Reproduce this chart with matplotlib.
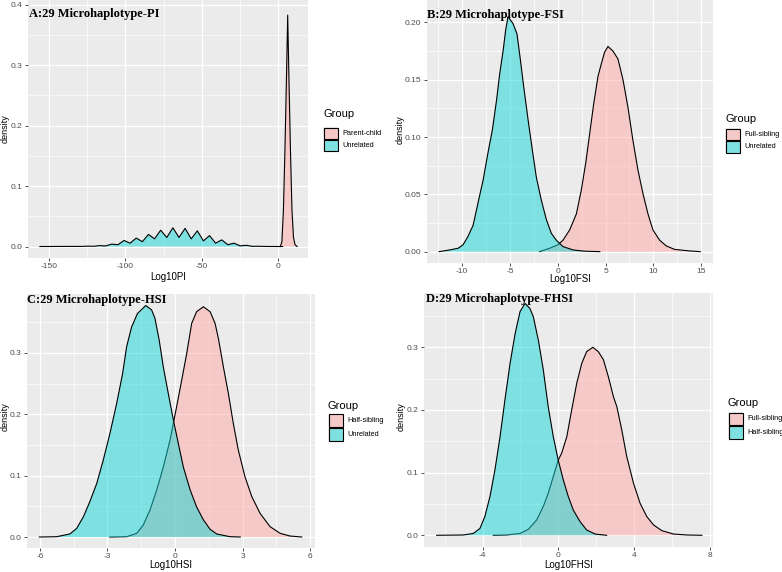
import matplotlib.pyplot as plt
from matplotlib.patches import Rectangle
from matplotlib.colors import to_rgba

# ---- data ----
# A: Log10PI
a_pc_x = [1.5, 2.5, 3.5, 4.5, 5.5, 6.3, 7.1, 8.1, 9.1, 10.1, 11.1, 12.5]
a_pc_y = [0, 0.008, 0.06, 0.16, 0.28, 0.383, 0.28, 0.16, 0.06, 0.015, 0.003, 0]
a_un_x = [-156, -145, -136.9, -128.9, -124.9, -120.9, -116.9, -114.9, -112.9, -110.9,
          -108.9, -106.9, -104.9, -102.9, -100.9, -98.9, -96.9, -94.9, -92.9, -90.9,
          -88.9, -86.9, -84.9, -82.9, -80.9, -78.9, -76.9, -74.9, -72.9, -70.9,
          -68.9, -66.9, -64.9, -62.9, -60.9, -58.9, -56.9, -54.9, -52.9, -50.9,
          -48.9, -46.9, -44.9, -42.9, -40.9, -38.9, -36.9, -34.9, -32.9, -30.9,
          -28.9, -26.9, -24.9, -22.9, -20.9, -18.9, -16.9, -12.9, -8, 0, 3]
a_un_y = [0, 0.0001, 0.0002, 0.0002, 0.0006, 0.0004, 0.0015, 0.0012, 0.0010, 0.0025,
          0.0040, 0.0035, 0.0030, 0.0065, 0.0100, 0.0078, 0.0055, 0.0098, 0.0140, 0.0110,
          0.0080, 0.0140, 0.0200, 0.0164, 0.0127, 0.0199, 0.0270, 0.0210, 0.0150, 0.0230,
          0.0310, 0.0230, 0.0150, 0.0225, 0.0300, 0.0214, 0.0127, 0.0194, 0.0260, 0.0177,
          0.0093, 0.0137, 0.0180, 0.0118, 0.0055, 0.0083, 0.0110, 0.0070, 0.0030, 0.0043,
          0.0055, 0.0034, 0.0012, 0.0016, 0.0020, 0.0012, 0.0003, 0.0004, 0.0001, 0, 0]

# B: Log10FSI
b_fs_x = [-1.9, -0.84, 0.03, 0.55, 1.25, 1.95, 2.47, 2.92, 3.34, 3.76, 4.21, 4.56, 4.9,
          5.25, 5.77, 6.3, 6.82, 7.34, 7.86, 8.39, 8.9, 9.43, 9.95, 10.65, 11.35, 12.2,
          13.8, 14.9]
b_fs_y = [0, 0.003, 0.006, 0.010, 0.019, 0.033, 0.054, 0.077, 0.103, 0.129, 0.153, 0.164,
          0.174, 0.179, 0.175, 0.168, 0.150, 0.126, 0.097, 0.071, 0.051, 0.033, 0.019,
          0.010, 0.005, 0.002, 0.0006, 0]
b_un_x = [-12.4, -11.3, -10.4, -9.9, -9.4, -8.85, -8.27, -7.8, -7.3, -6.84, -6.4, -6.07,
          -5.7, -5.45, -5.2, -4.68, -4.26, -3.9, -3.56, -3.1, -2.66, -2.24, -1.72, -1.19,
          -0.67, -0.15, 0.55, 1.6, 2.8, 4.4]
b_un_y = [0, 0.0015, 0.003, 0.006, 0.013, 0.023, 0.045, 0.0625, 0.086, 0.106, 0.132, 0.155,
          0.176, 0.193, 0.205, 0.199, 0.19, 0.167, 0.144, 0.115, 0.089, 0.065, 0.045, 0.028,
          0.016, 0.010, 0.0044, 0.0015, 0.0004, 0]

# C: Log10HSI
c_hs_x = [-2.9, -2.15, -1.7, -1.41, -1.11, -0.81, -0.52, -0.22, 0.07, 0.3, 0.52, 0.74,
          0.96, 1.26, 1.56, 1.78, 1.93, 2.15, 2.37, 2.59, 2.81, 3.11, 3.41, 3.78, 4.22,
          4.67, 5.11, 5.63]
c_hs_y = [0, 0.0005, 0.006, 0.0195, 0.044, 0.077, 0.114, 0.158, 0.212, 0.256, 0.299, 0.348,
          0.367, 0.375, 0.367, 0.348, 0.323, 0.277, 0.234, 0.185, 0.142, 0.098, 0.066,
          0.0385, 0.017, 0.006, 0.0016, 0]
c_un_x = [-6.03, -5.26, -4.67, -4.37, -4.07, -3.78, -3.48, -3.19, -2.89, -2.59, -2.33,
          -2.15, -1.93, -1.67, -1.3, -1.04, -0.89, -0.7, -0.52, -0.3, -0.07, 0.15, 0.37,
          0.67, 0.96, 1.26, 1.56, 1.85, 2.44, 2.9]
c_un_y = [0, 0.0005, 0.005, 0.014, 0.033, 0.058, 0.087, 0.125, 0.169, 0.218, 0.266, 0.31,
          0.342, 0.364, 0.377, 0.37, 0.356, 0.32, 0.277, 0.234, 0.19, 0.152, 0.114, 0.077,
          0.049, 0.028, 0.0125, 0.005, 0.0005, 0]

# D: Log10FHSI
d_fs_x = [-3.44, -2.73, -2.02, -1.58, -1.14, -0.79, -0.53, -0.26, 0.0, 0.18, 0.45, 0.71,
          0.98, 1.24, 1.5, 1.83, 2.12, 2.39, 2.65, 2.92, 3.1, 3.36, 3.62, 3.98, 4.33, 4.68,
          5.04, 5.48, 6.1, 6.8, 7.6]
d_fs_y = [0, 0.0005, 0.003, 0.0096, 0.0245, 0.046, 0.067, 0.094, 0.12, 0.131, 0.157, 0.2,
          0.243, 0.274, 0.293, 0.300, 0.293, 0.280, 0.253, 0.221, 0.205, 0.168, 0.126,
          0.083, 0.051, 0.030, 0.0165, 0.0074, 0.002, 0.0005, 0]
d_hs_x = [-6.43, -5.02, -4.49, -4.14, -3.88, -3.61, -3.35, -3.08, -2.82, -2.55, -2.28,
          -2.02, -1.76, -1.5, -1.32, -1.05, -0.79, -0.53, -0.26, 0.0, 0.27, 0.53, 0.8,
          1.15, 1.5, 1.95, 2.56]
d_hs_y = [0, 0.0005, 0.003, 0.011, 0.030, 0.062, 0.104, 0.157, 0.216, 0.274, 0.322, 0.357,
          0.370, 0.362, 0.349, 0.311, 0.264, 0.205, 0.157, 0.120, 0.088, 0.062, 0.040,
          0.022, 0.0085, 0.002, 0]

titles = ["A:29 Microhaplotype-PI", "B:29 Microhaplotype-FSI",
          "C:29 Microhaplotype-HSI", "D:29 Microhaplotype-FHSI"]
xlabels = ["Log10PI", "Log10FSI", "Log10HSI", "Log10FHSI"]
groups = [["Parent-child", "Unrelated"], ["Full-sibling", "Unrelated"],
          ["Half-sibling", "Unrelated"], ["Full-sibling", "Half-sibling"]]
xticks = [[-150, -100, -50, 0], [-10, -5, 0, 5, 10, 15], [-6, -3, 0, 3, 6], [-4, 0, 4, 8]]
xticklabels = [["-150", "-100", "-50", "0"], ["-10", "-5", "0", "5", "10", "15"],
               ["-6", "-3", "0", "3", "6"], ["-4", "0", "4", "8"]]
yticks = [[0, 0.1, 0.2, 0.3, 0.4], [0, 0.05, 0.10, 0.15, 0.20],
          [0, 0.1, 0.2, 0.3], [0, 0.1, 0.2, 0.3]]
yticklabels = [["0.0", "0.1", "0.2", "0.3", "0.4"], ["0.00", "0.05", "0.10", "0.15", "0.20"],
               ["0.0", "0.1", "0.2", "0.3"], ["0.0", "0.1", "0.2", "0.3"]]

# ---- layout (pixels) ----
W, H = 782, 572
PINK = to_rgba("#FFA8A5", 0.5)
TEAL = to_rgba("#12D6D6", 0.5)
BG = "#EBEBEB"
SANS = ["Liberation Sans", "DejaVu Sans"]

fig = plt.figure(figsize=(W / 100, H / 100), dpi=100)


def px_axes(l, t, r, b):
    return fig.add_axes([l / W, 1 - b / H, (r - l) / W, (b - t) / H])


def fx(x):
    return x / W


def fy(y):
    return 1 - y / H


panels = [
    dict(rect=(28, 0, 308, 258), xlim=(-163.8, 19.6), ylim=(-0.019, 0.408),
         xminor=[-125, -75, -25], yminor=[0.05, 0.15, 0.25, 0.35],
         curves=[(a_pc_x, a_pc_y), (a_un_x, a_un_y)], ylab_xy=(5.5, 129), xlab_y=277,
         title_xy=(29, 17), leg=(323, 114, 127, 12.5)),
    dict(rect=(426.7, 0, 712.7, 263), xlim=(-13.7, 16.2), ylim=(-0.0099, 0.2195),
         xminor=[-12.5, -7.5, -2.5, 2.5, 7.5, 12.5], yminor=[0.025, 0.075, 0.125, 0.175],
         curves=[(b_fs_x, b_fs_y), (b_un_x, b_un_y)], ylab_xy=(400, 130), xlab_y=279,
         title_xy=(426.7, 18), leg=(725, 119, 128, 12.5)),
    dict(rect=(26.7, 294, 315, 548), xlim=(-6.59, 6.22), ylim=(-0.0179, 0.3958),
         xminor=[-4.5, -1.5, 1.5, 4.5], yminor=[0.05, 0.15, 0.25, 0.35],
         curves=[(c_hs_x, c_hs_y), (c_un_x, c_un_y)], ylab_xy=(5.5, 417), xlab_y=565,
         title_xy=(27, 303), leg=(328, 406, 413.5, 14)),
    dict(rect=(424, 293, 713.3, 546.7), xlim=(-7.1, 8.2), ylim=(-0.0182, 0.3866),
         xminor=[-6, -2, 2, 6], yminor=[0.05, 0.15, 0.25, 0.35],
         curves=[(d_fs_x, d_fs_y), (d_hs_x, d_hs_y)], ylab_xy=(401, 417), xlab_y=565,
         title_xy=(426, 302), leg=(728, 403, 412, 13.5)),
]

for i, p in enumerate(panels):
    ax = px_axes(*p["rect"])
    ax.set_facecolor(BG)
    for s in ax.spines.values():
        s.set_visible(False)
    ax.set_xlim(*p["xlim"])
    ax.set_ylim(*p["ylim"])
    for v in p["xminor"]:
        ax.axvline(v, color="white", lw=0.45, zorder=0.5)
    for v in p["yminor"]:
        ax.axhline(v, color="white", lw=0.45, zorder=0.5)
    for v in xticks[i]:
        ax.axvline(v, color="white", lw=0.9, zorder=0.6)
    for v in yticks[i]:
        ax.axhline(v, color="white", lw=0.9, zorder=0.6)

    for (xs, ys), col in zip(p["curves"], [PINK, TEAL]):
        ax.fill_between(xs, 0, ys, facecolor=col, edgecolor="none", zorder=2)
        ax.plot(xs, ys, color="black", lw=0.8, zorder=2)

    ax.set_xticks(xticks[i])
    ax.set_xticklabels(xticklabels[i], family=SANS, fontsize=6, color="#4D4D4D")
    ax.set_yticks(yticks[i])
    ax.set_yticklabels(yticklabels[i], family=SANS, fontsize=6, color="#4D4D4D")
    ax.tick_params(length=2.2, width=0.6, color="#333333", pad=1.5)

    l, t, r, b = p["rect"]
    fig.text(fx((l + r) / 2), fy(p["xlab_y"]), xlabels[i], family=SANS, fontsize=7,
             ha="center", va="center")
    yx, yy = p["ylab_xy"]
    fig.text(fx(yx), fy(yy), "density", family=SANS, fontsize=6.5, rotation=90,
             ha="center", va="center")

    tx, ty = p["title_xy"]
    fig.text(fx(tx), fy(ty), titles[i], family=["Liberation Serif", "DejaVu Serif"],
             fontweight="bold", fontsize=9, ha="left", va="baseline", zorder=10)

    # legend
    lx, gy, ky, kh = p["leg"]
    fig.text(fx(lx), fy(gy), "Group", family=SANS, fontsize=8, ha="left", va="center")
    for k, (lab, col) in enumerate(zip(groups[i], [PINK, TEAL])):
        top = ky + k * kh
        fig.patches.append(Rectangle((fx(lx), fy(top + kh)), 15 / W, kh / H,
                                     transform=fig.transFigure, facecolor=BG,
                                     edgecolor="none"))
        fig.patches.append(Rectangle((fx(lx + 0.5), fy(top + kh - 0.5)), 14 / W, (kh - 1) / H,
                                     transform=fig.transFigure, facecolor=col,
                                     edgecolor="black", lw=0.8))
        fig.text(fx(lx + 19), fy(top + kh / 2), lab, family=SANS, fontsize=5.3,
                 ha="left", va="center")

fig.savefig("out.png", dpi=100)
